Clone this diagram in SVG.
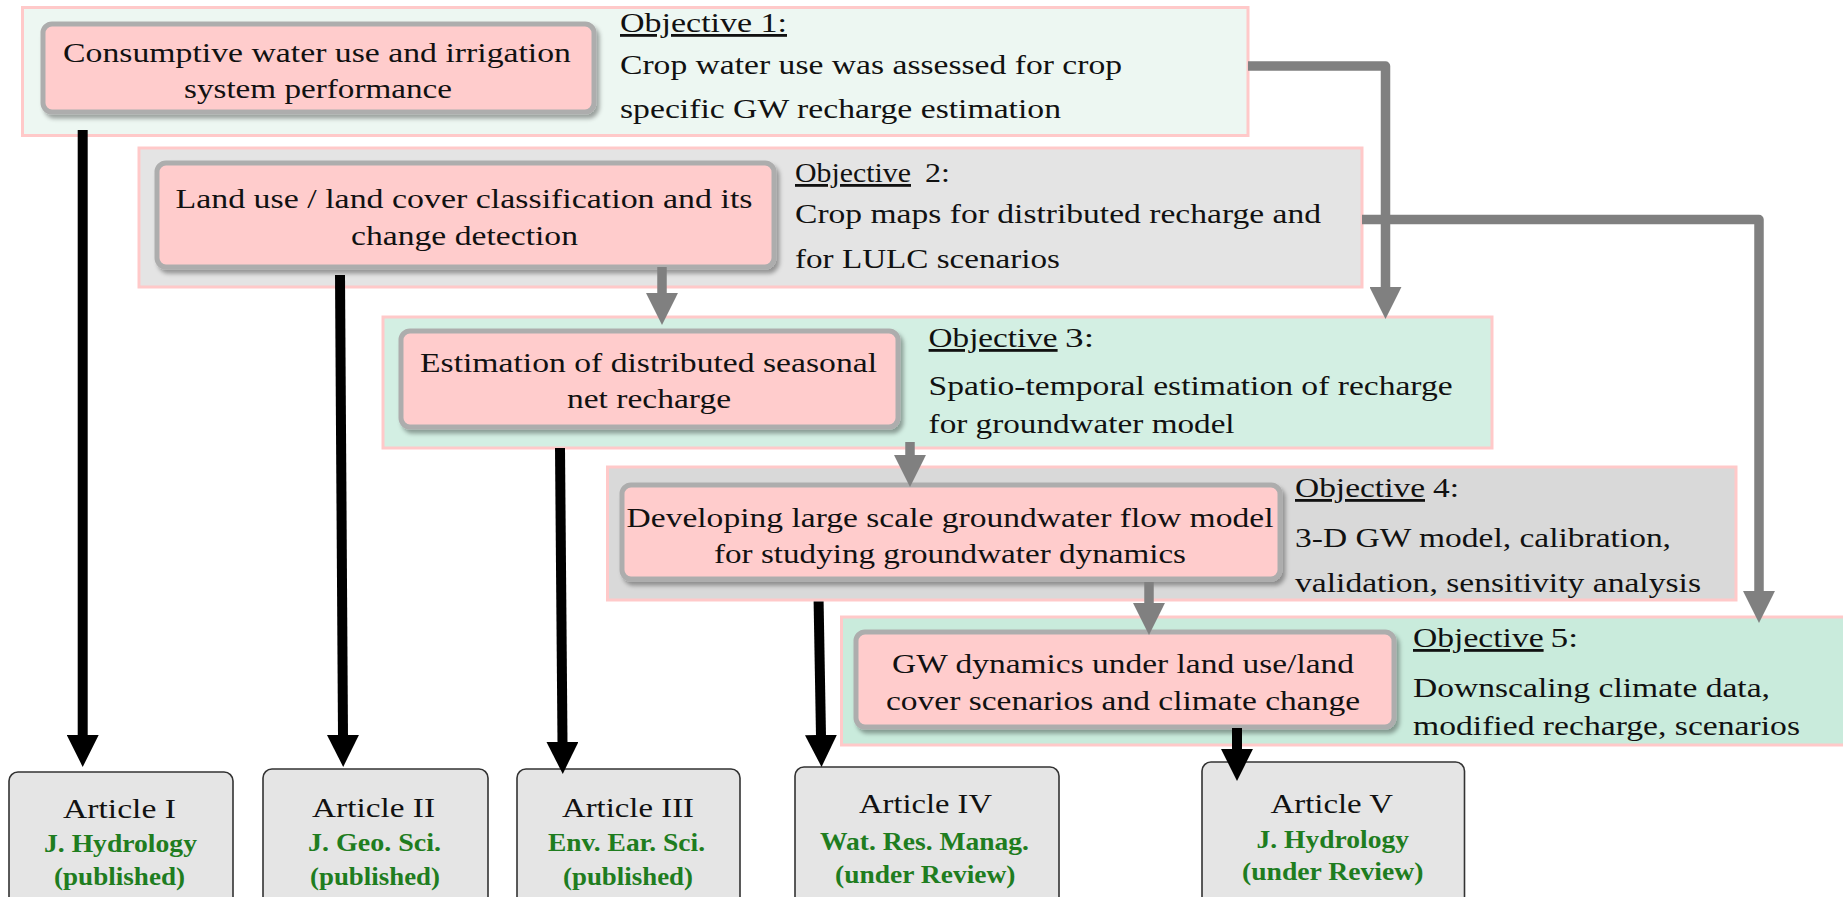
<svg xmlns="http://www.w3.org/2000/svg" width="1843" height="897" viewBox="0 0 1843 897">
<defs>
<style>
.t{font-family:"Liberation Serif","Times New Roman",serif;font-size:28px;fill:#111}
.u{text-decoration:underline}
.g{font-family:"Liberation Serif","Times New Roman",serif;font-size:25px;font-weight:bold;fill:#1f7d1f}
.obj{stroke:#ffc9c9;stroke-width:3}
.inner{fill:#ffcccc;stroke:#adadad;stroke-width:5;filter:url(#sh)}
.art{fill:#e5e5e5;stroke:#333;stroke-width:1.6}
.ga{fill:none;stroke:#808080;stroke-width:9.5;stroke-linejoin:round}
.ba{fill:none;stroke:#000;stroke-width:10}
</style>
<filter id="sh" x="-5%" y="-10%" width="112%" height="130%">
<feDropShadow dx="3" dy="4" stdDeviation="2" flood-color="#000" flood-opacity="0.35"/>
</filter>
<marker id="ag" markerUnits="userSpaceOnUse" markerWidth="32" markerHeight="32" viewBox="0 -15 30 30" refX="1" refY="0" orient="auto">
<path d="M0,-15 L30,0 L0,15 Z" fill="#808080"/>
</marker>
<marker id="ab" markerUnits="userSpaceOnUse" markerWidth="32" markerHeight="32" viewBox="0 -15 30 30" refX="1" refY="0" orient="auto">
<path d="M0,-15 L30,0 L0,15 Z" fill="#000"/>
</marker>
</defs>
<rect width="1843" height="897" fill="#fff"/>

<g id="objective1">
<rect class="obj" x="22.5" y="7.5" width="1225.5" height="128" fill="#edf7f2"/>
<rect class="inner" x="43" y="24" width="551" height="88" rx="9"/>
<text class="t" x="63" y="62" textLength="508" lengthAdjust="spacingAndGlyphs">Consumptive water use and irrigation</text>
<text class="t" x="184" y="98" textLength="268" lengthAdjust="spacingAndGlyphs">system performance</text>
<text class="t u" x="620" y="32" textLength="167" lengthAdjust="spacingAndGlyphs">Objective 1:</text>
<text class="t" x="620" y="74" textLength="502" lengthAdjust="spacingAndGlyphs">Crop water use was assessed for crop</text>
<text class="t" x="620" y="118" textLength="441" lengthAdjust="spacingAndGlyphs">specific GW recharge estimation</text>
</g>

<g id="objective2">
<rect class="obj" x="139" y="148" width="1223" height="139" fill="#e4e4e4"/>
<rect class="inner" x="157" y="163" width="617" height="104" rx="9"/>
<text class="t" x="175.5" y="208" textLength="577" lengthAdjust="spacingAndGlyphs">Land use / land cover classification and its</text>
<text class="t" x="351" y="245" textLength="227" lengthAdjust="spacingAndGlyphs">change detection</text>
<text class="t u" x="795" y="182" textLength="116" lengthAdjust="spacingAndGlyphs">Objective</text>
<text class="t" x="925" y="182" textLength="25" lengthAdjust="spacingAndGlyphs">2:</text>
<text class="t" x="795" y="223" textLength="526" lengthAdjust="spacingAndGlyphs">Crop maps  for distributed recharge and</text>
<text class="t" x="795" y="268" textLength="265" lengthAdjust="spacingAndGlyphs">for LULC  scenarios</text>
</g>

<g id="objective3">
<rect class="obj" x="383" y="317" width="1109" height="131" fill="#d3efe3"/>
<rect class="inner" x="401" y="331" width="497" height="96" rx="9"/>
<text class="t" x="420" y="372" textLength="457" lengthAdjust="spacingAndGlyphs">Estimation of distributed seasonal</text>
<text class="t" x="567" y="408" textLength="164" lengthAdjust="spacingAndGlyphs">net recharge</text>
<text class="t u" x="928.6" y="347" textLength="129" lengthAdjust="spacingAndGlyphs">Objective</text>
<text class="t" x="1065" y="347" textLength="29" lengthAdjust="spacingAndGlyphs">3:</text>
<text class="t" x="928.6" y="395" textLength="524" lengthAdjust="spacingAndGlyphs">Spatio-temporal estimation of recharge</text>
<text class="t" x="928.6" y="433" textLength="306" lengthAdjust="spacingAndGlyphs">for groundwater model</text>
</g>

<g id="objective4">
<rect class="obj" x="607.5" y="467" width="1128.5" height="133" fill="#d9d9d9"/>
<rect class="inner" x="622" y="485" width="658" height="94" rx="9"/>
<text class="t" x="626.5" y="527" textLength="647" lengthAdjust="spacingAndGlyphs">Developing large scale groundwater flow model</text>
<text class="t" x="714" y="563" textLength="472" lengthAdjust="spacingAndGlyphs">for studying groundwater dynamics</text>
<text class="t u" x="1295" y="497" textLength="130" lengthAdjust="spacingAndGlyphs">Objective</text>
<text class="t" x="1433" y="497" textLength="26" lengthAdjust="spacingAndGlyphs">4:</text>
<text class="t" x="1295" y="547" textLength="376" lengthAdjust="spacingAndGlyphs">3-D GW model, calibration,</text>
<text class="t" x="1295" y="592" textLength="406" lengthAdjust="spacingAndGlyphs">validation, sensitivity analysis</text>
</g>

<g id="objective5">
<rect class="obj" x="841.5" y="617" width="1010" height="128" fill="#c9ebdc"/>
<rect class="inner" x="856" y="632" width="538" height="95" rx="9"/>
<text class="t" x="892" y="673" textLength="462" lengthAdjust="spacingAndGlyphs">GW dynamics  under land use/land</text>
<text class="t" x="886" y="710" textLength="474" lengthAdjust="spacingAndGlyphs">cover scenarios and climate change</text>
<text class="t u" x="1413" y="647" textLength="130.6" lengthAdjust="spacingAndGlyphs">Objective</text>
<text class="t" x="1550.5" y="647" textLength="27.5" lengthAdjust="spacingAndGlyphs">5:</text>
<text class="t" x="1413" y="697" textLength="357" lengthAdjust="spacingAndGlyphs">Downscaling climate data,</text>
<text class="t" x="1413" y="735" textLength="387" lengthAdjust="spacingAndGlyphs">modified recharge, scenarios</text>
</g>

<g id="article1">
<rect class="art" x="9" y="772" width="224" height="140" rx="9"/>
<text class="t" x="63" y="818" textLength="113" lengthAdjust="spacingAndGlyphs">Article I</text>
<text class="g" x="44" y="852" textLength="153" lengthAdjust="spacingAndGlyphs">J. Hydrology</text>
<text class="g" x="54" y="885" textLength="131" lengthAdjust="spacingAndGlyphs">(published)</text>
</g>
<g id="article2">
<rect class="art" x="263" y="769" width="225" height="140" rx="9"/>
<text class="t" x="312" y="817" textLength="123" lengthAdjust="spacingAndGlyphs">Article II</text>
<text class="g" x="308" y="851" textLength="133" lengthAdjust="spacingAndGlyphs">J. Geo. Sci.</text>
<text class="g" x="310" y="885" textLength="130" lengthAdjust="spacingAndGlyphs">(published)</text>
</g>
<g id="article3">
<rect class="art" x="517" y="769" width="223" height="140" rx="9"/>
<text class="t" x="562" y="817" textLength="132" lengthAdjust="spacingAndGlyphs">Article III</text>
<text class="g" x="548" y="851" textLength="157" lengthAdjust="spacingAndGlyphs">Env. Ear. Sci.</text>
<text class="g" x="563" y="885" textLength="130" lengthAdjust="spacingAndGlyphs">(published)</text>
</g>
<g id="article4">
<rect class="art" x="795" y="767" width="264" height="140" rx="9"/>
<text class="t" x="859" y="813" textLength="133" lengthAdjust="spacingAndGlyphs">Article IV</text>
<text class="g" x="820" y="850" textLength="209" lengthAdjust="spacingAndGlyphs">Wat. Res. Manag.</text>
<text class="g" x="835" y="883" textLength="180.5" lengthAdjust="spacingAndGlyphs">(under Review)</text>
</g>
<g id="article5">
<rect class="art" x="1202" y="762" width="262.5" height="145" rx="9"/>
<text class="t" x="1270.5" y="813" textLength="122.5" lengthAdjust="spacingAndGlyphs">Article V</text>
<text class="g" x="1256.6" y="848" textLength="152.4" lengthAdjust="spacingAndGlyphs">J. Hydrology</text>
<text class="g" x="1242" y="880" textLength="181.5" lengthAdjust="spacingAndGlyphs">(under Review)</text>
</g>

<g id="connectors">
<path class="ga" d="M1248,66 H1385.5 V288" marker-end="url(#ag)"/>
<path class="ga" d="M1362,219.5 H1759 V592" marker-end="url(#ag)"/>
<path class="ga" d="M662,267 V294" marker-end="url(#ag)"/>
<path class="ga" d="M910,442 V456" marker-end="url(#ag)"/>
<path class="ga" d="M1149,582 V604" marker-end="url(#ag)"/>
<path class="ba" d="M82.7,130 V736" marker-end="url(#ab)"/>
<path class="ba" d="M340,275 L343,736" marker-end="url(#ab)"/>
<path class="ba" d="M560,448 L562.5,743" marker-end="url(#ab)"/>
<path class="ba" d="M818.6,601.5 L821,736" marker-end="url(#ab)"/>
<path class="ba" d="M1237,728 V750" marker-end="url(#ab)"/>
</g>
</svg>
